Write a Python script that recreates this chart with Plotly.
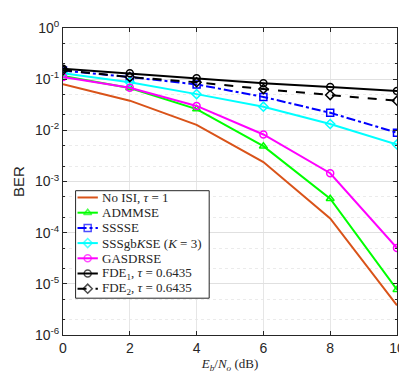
import plotly.graph_objects as go

snr_db = [0, 2, 4, 6, 8, 10]

ber_no_isi = [0.080, 0.038, 0.0128, 0.0024, 1.9e-4, 3.8e-6]
ber_admmse = [0.115, 0.067, 0.026, 0.0049, 4.6e-4, 7.7e-6]
ber_sssse = [0.147, 0.110, 0.079, 0.045, 0.022, 0.0090]
ber_sssgbkse = [0.130, 0.087, 0.051, 0.029, 0.0133, 0.0053]
ber_gasdrse = [0.110, 0.068, 0.030, 0.0083, 0.00145, 5.0e-5]
ber_fde1 = [0.160, 0.130, 0.104, 0.083, 0.070, 0.059]
ber_fde2 = [0.150, 0.110, 0.087, 0.064, 0.049, 0.038]

series = [
    ("No ISI, <i>τ</i> = 1", ber_no_isi, "#D95319", "solid", None),
    ("ADMMSE", ber_admmse, "#00FF00", "solid", "triangle-up-open"),
    ("SSSSE", ber_sssse, "#0000FF", "dashdot", "square-open"),
    ("SSSgb<i>K</i>SE (<i>K</i> = 3)", ber_sssgbkse, "#00FFFF", "solid", "diamond-open"),
    ("GASDRSE", ber_gasdrse, "#FF00FF", "solid", "circle-open"),
    ("FDE<sub>1</sub>, <i>τ</i> = 0.6435", ber_fde1, "#000000", "solid", "circle-open"),
    ("FDE<sub>2</sub>, <i>τ</i> = 0.6435", ber_fde2, "#000000", "dash", "diamond-open"),
]

fig = go.Figure()
for name, ys, color, dash, sym in series:
    fig.add_trace(go.Scatter(
        x=snr_db, y=ys, name=name,
        mode='lines+markers' if sym else 'lines',
        line=dict(color=color, width=2, dash=dash),
        marker=dict(symbol=sym or 'circle', size=7, color=color,
                    line=dict(color=color, width=1.5)),
        showlegend=False,
    ))

# compact MATLAB-style legend drawn on a pixel-scaled overlay axis
# (x2: 0..345 px across plot, y2: 0..317 px down from plot top)
box_x0, box_x1, box_y0, box_y1 = 13, 151, 168, 279
fig.add_trace(go.Scatter(
    x=[box_x0, box_x1, box_x1, box_x0, box_x0],
    y=[box_y0, box_y0, box_y1, box_y1, box_y0],
    xaxis='x2', yaxis='y2', mode='lines', fill='toself',
    fillcolor='white', line=dict(color='#262626', width=1),
    showlegend=False, hoverinfo='skip',
))
row_y0, row_step = 175, 15.7
for i, (name, ys, color, dash, sym) in enumerate(series):
    ry = row_y0 + i * row_step
    fig.add_trace(go.Scatter(
        x=[15, 25.5, 36], y=[ry, ry, ry], xaxis='x2', yaxis='y2',
        mode='lines+markers' if sym else 'lines',
        line=dict(color=color, width=2, dash=dash),
        marker=dict(symbol=sym or 'circle', size=[0, 7, 0], color=color,
                    line=dict(color=color, width=1.5)),
        showlegend=False, hoverinfo='skip',
    ))
    fig.add_annotation(
        x=38, y=ry, xref='x2', yref='y2', text=name, showarrow=False,
        xanchor='left', yanchor='middle',
        font=dict(family='Liberation Serif, Times New Roman', size=13, color='#262626'),
    )

ytick_vals = [10 ** -k for k in range(6, -1, -1)]
ytick_text = ["10<sup>-%d</sup>" % k for k in range(6, 0, -1)] + ["10<sup>0</sup>"]

fig.update_layout(
    width=407, height=377,
    margin=dict(l=52, r=10, t=10, b=50),
    paper_bgcolor='white', plot_bgcolor='white',
    font=dict(family='Liberation Sans, Arial', size=13, color='#262626'),
    showlegend=False,
    xaxis=dict(
        range=[0, 10], tickvals=[0, 2, 4, 6, 8, 10],
        showgrid=True, gridcolor='#e6e6e6', zeroline=False,
        showline=True, linecolor='#262626', mirror='ticks',
        ticks='inside', ticklen=4, tickcolor='#262626',
        tickfont=dict(size=14),
        title=dict(text='<i>E<sub>b</sub></i>/<i>N<sub>o</sub></i> (dB)',
                   font=dict(family='Liberation Serif, Times New Roman', size=13),
                   standoff=4),
    ),
    yaxis=dict(
        type='log', range=[-6, 0],
        tickvals=ytick_vals, ticktext=ytick_text,
        showgrid=True, gridcolor='#e0e0e0', zeroline=False,
        showline=True, linecolor='#262626', mirror='ticks',
        ticks='inside', ticklen=4, tickcolor='#262626',
        tickfont=dict(size=14),
        minor=dict(showgrid=True, gridcolor='#ebebeb', griddash='dot',
                   ticks='inside', ticklen=2, tickcolor='#262626'),
        title=dict(text='BER', font=dict(size=15), standoff=6),
    ),
    xaxis2=dict(overlaying='x', range=[0, 345], visible=False, fixedrange=True),
    yaxis2=dict(overlaying='y', range=[317, 0], visible=False, fixedrange=True),
)

fig.write_html("out.html")
